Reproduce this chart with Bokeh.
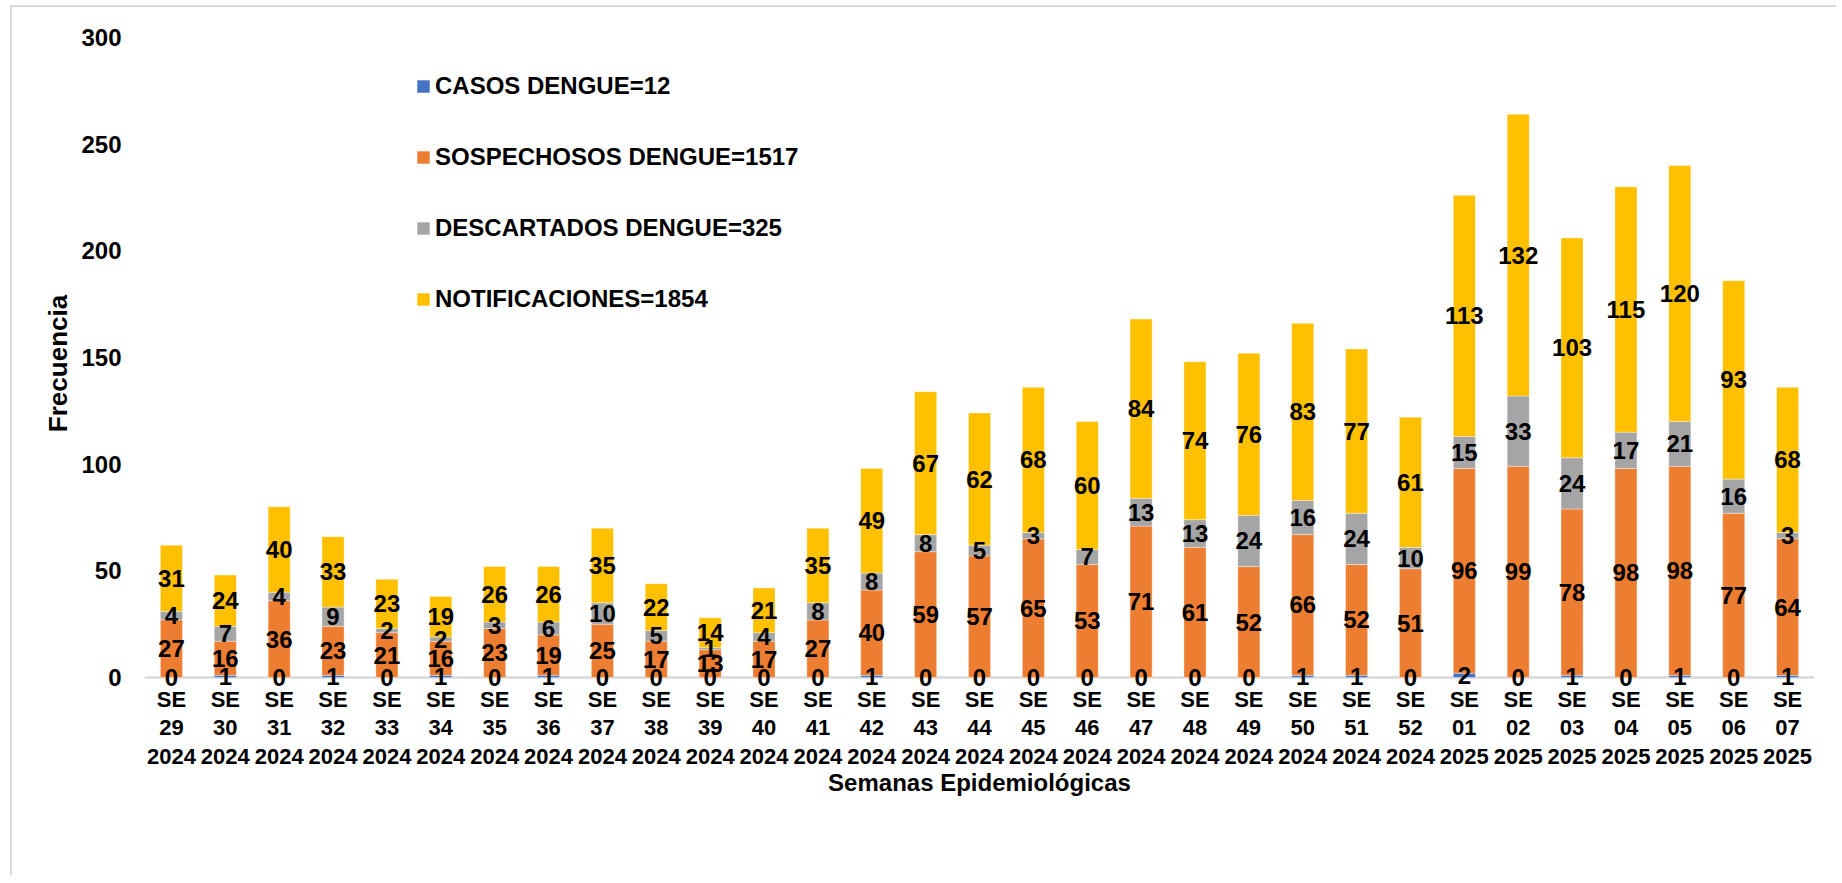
from bokeh.plotting import figure
from bokeh.models import ColumnDataSource, FactorRange, Range1d, Legend, LegendItem, FixedTicker, LabelSet, Span
from bokeh.core.properties import value
from bokeh.embed import file_html
from bokeh.resources import INLINE

weeks = ["29", "30", "31", "32", "33", "34", "35", "36", "37", "38", "39", "40",
         "41", "42", "43", "44", "45", "46", "47", "48", "49", "50", "51", "52",
         "01", "02", "03", "04", "05", "06", "07"]
years = ["2024"] * 24 + ["2025"] * 7

casos = [0, 1, 0, 1, 0, 1, 0, 1, 0, 0, 0, 0, 0, 1, 0, 0, 0, 0, 0, 0, 0, 1, 1, 0,
         2, 0, 1, 0, 1, 0, 1]
sospechosos = [27, 16, 36, 23, 21, 16, 23, 19, 25, 17, 13, 17, 27, 40, 59, 57, 65, 53,
               71, 61, 52, 66, 52, 51, 96, 99, 78, 98, 98, 77, 64]
descartados = [4, 7, 4, 9, 2, 2, 3, 6, 10, 5, 1, 4, 8, 8, 8, 5, 3, 7, 13, 13, 24, 16,
               24, 10, 15, 33, 24, 17, 21, 16, 3]
notificaciones = [31, 24, 40, 33, 23, 19, 26, 26, 35, 22, 14, 21, 35, 49, 67, 62, 68,
                  60, 84, 74, 76, 83, 77, 61, 113, 132, 103, 115, 120, 93, 68]

series_names = ["CASOS DENGUE", "SOSPECHOSOS DENGUE", "DESCARTADOS DENGUE", "NOTIFICACIONES"]
colors = ["#4472C4", "#ED7D31", "#A5A5A5", "#FFC000"]
y_ticks = [0, 50, 100, 150, 200, 250, 300]

FONT = "Liberation Sans"

cats = [f"SE\n{w}\n{y}" for w, y in zip(weeks, years)]
cols = ["casos", "sosp", "desc", "notif"]
data = dict(cat=cats, casos=casos, sosp=sospechosos, desc=descartados, notif=notificaciones)
# label positions (segment centres)
base = [0] * len(cats)
for c in cols:
    vals = data[c]
    data[c + "_mid"] = [b + v / 2 for b, v in zip(base, vals)]
    data[c + "_txt"] = [str(v) for v in vals]
    base = [b + v for b, v in zip(base, vals)]
src = ColumnDataSource(data)

# y range extends a little below 0 so the "0" labels at the baseline are not clipped
PAD_PX = 12
W, H = 1826, 870
p = figure(x_range=FactorRange(*cats, range_padding=0), y_range=Range1d(-PAD_PX * 300 / 640, 300),
           width=W, height=H, output_backend="svg", toolbar_location=None,
           min_border_left=132, min_border_right=24, min_border_top=30, min_border_bottom=200 - PAD_PX,
           background_fill_color="white", border_fill_color="white")
p.styles = {"border-left": "2px solid #d9d9d9", "border-top": "2px solid #d9d9d9",
            "margin-left": "10px", "margin-top": "5px"}

p.add_layout(Span(location=0, dimension="width", line_color="#d9d9d9", line_width=2.5, level="underlay"))

rs = p.vbar_stack(cols, x="cat", width=0.41, color=colors, source=src,
                  line_color="white", line_width=0.6, line_alpha=0.6)

for c in cols:
    p.add_layout(LabelSet(x="cat", y=c + "_mid", text=c + "_txt", source=src,
                          text_font=value(FONT), text_font_style="bold", text_font_size="24px",
                          text_align="center", text_baseline="middle", text_color="black"))

totals = [sum(casos), sum(sospechosos), sum(descartados), sum(notificaciones)]
items = [LegendItem(label=f"{n}={t}", renderers=[r]) for n, t, r in zip(series_names, totals, rs)]
legend = Legend(items=items, location=(271, 364 + PAD_PX), orientation="vertical",
                glyph_width=16, glyph_height=16, label_standoff=4, spacing=43,
                label_text_font=FONT, label_text_font_style="bold", label_text_font_size="24px",
                label_text_color="black", padding=0, margin=0,
                border_line_color=None, background_fill_alpha=0)
p.add_layout(legend, "center")

p.xgrid.grid_line_color = None
p.ygrid.grid_line_color = None
p.outline_line_color = None

xa = p.xaxis[0]
xa.axis_line_color = None
xa.major_tick_line_color = None
xa.minor_tick_line_color = None
xa.major_label_text_font = FONT
xa.major_label_text_font_style = "bold"
xa.major_label_text_font_size = "22px"
xa.major_label_text_line_height = 1.15
xa.major_label_text_color = "black"
xa.major_label_standoff = 3 - PAD_PX
xa.axis_label = "Semanas Epidemiológicas"
xa.axis_label_text_font = FONT
xa.axis_label_text_font_style = "bold"
xa.axis_label_text_font_size = "24px"
xa.axis_label_text_color = "black"
xa.axis_label_standoff = -3

ya = p.yaxis[0]
ya.ticker = FixedTicker(ticks=y_ticks)
ya.axis_line_color = None
ya.major_tick_line_color = None
ya.minor_tick_line_color = None
ya.major_label_text_font = FONT
ya.major_label_text_font_style = "bold"
ya.major_label_text_font_size = "24px"
ya.major_label_text_color = "black"
ya.major_label_standoff = 17
ya.axis_label = "Frecuencia"
ya.axis_label_text_font = FONT
ya.axis_label_text_font_style = "bold"
ya.axis_label_text_font_size = "26px"
ya.axis_label_text_color = "black"
ya.axis_label_standoff = 5

open("out.html", "w").write(file_html(p, INLINE))
